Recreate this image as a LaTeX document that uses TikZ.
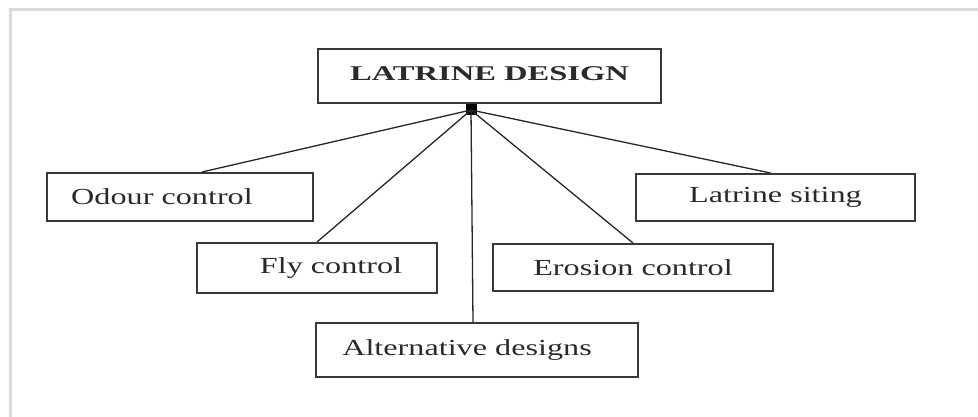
\documentclass[tikz,border=0pt]{standalone}
\usepackage{fontspec}
\setmainfont{Liberation Serif}
\usepackage{graphicx}
\usepackage{tikz}
\definecolor{boxline}{HTML}{383838}
\definecolor{frameline}{HTML}{DADADA}
\definecolor{textgray}{HTML}{2A2A2A}
\tikzstyle{box} = [draw=boxline, line width=2pt, inner sep=0pt,
    text=textgray, font=\fontsize{23}{26}\selectfont]
\tikzstyle{hub} = [fill=black, rectangle, minimum size=11pt, inner sep=0pt]
\tikzset{link/.style={draw=black!85, line width=1.3pt}}
% stretched text, as in the scanned figure
\newcommand{\wtext}[2][1.4]{\scalebox{#1}[1]{#2}}

\begin{document}
\begin{tikzpicture}[x=1pt,y=-1pt]
    \useasboundingbox (0,0) rectangle (978,417);
    %frame
    \draw[frameline, line width=3pt] (10,417) -- (10,10) -- (978,10);
    %boxes
    \node[box, minimum width=343pt, minimum height=54pt,
        font=\fontsize{21}{24}\selectfont\bfseries] (design) at (489.5,76)
        {\raisebox{4pt}{\wtext[1.55]{LATRINE DESIGN}}};
    \node[hub] (hub) at (471,110) {};
    \node[box, minimum width=266pt, minimum height=48pt] (odour) at (180,197)
        {\wtext{Odour control}\hspace*{36pt}};
    \node[box, minimum width=240pt, minimum height=50pt] (fly) at (317,268)
        {\hspace*{28pt}\wtext{Fly control}};
    \node[box, minimum width=322pt, minimum height=54pt] (alt) at (477,350)
        {\wtext{Alternative designs}\hspace*{20pt}};
    \node[box, minimum width=280pt, minimum height=47pt] (erosion) at (633,267.5)
        {\wtext{Erosion control}};
    \node[box, minimum width=279pt, minimum height=47pt] (siting) at (775.5,197.5)
        {\wtext{Latrine siting}};
    %lines
    \draw[link] (hub.center) -- ([xshift=156pt]odour.north west);
    \draw[link] (hub.center) -- ([xshift=121pt]fly.north west);
    \draw[link] (hub.center) -- ([xshift=-4pt]alt.north);
    \draw[link] (hub.center) -- (erosion.north);
    \draw[link] (hub.center) -- ([xshift=-5pt]siting.north);
\end{tikzpicture}
\end{document}
